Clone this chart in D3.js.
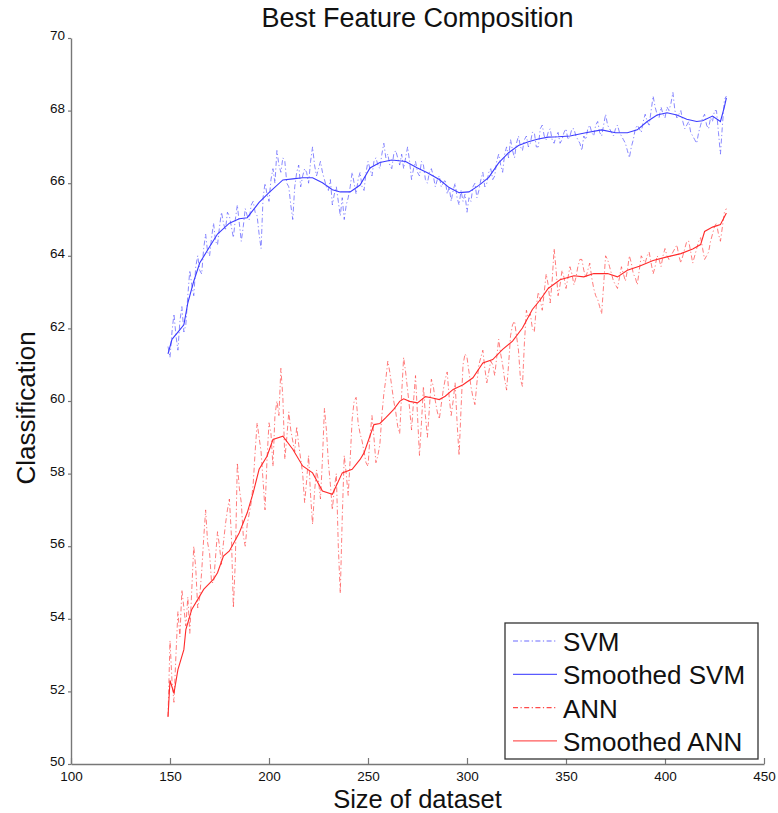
<!DOCTYPE html>
<html>
<head>
<meta charset="utf-8">
<script src="https://cdn.jsdelivr.net/npm/d3@7"></script>
<style>
  body { margin: 0; background: #fff; }
  text { font-family: "Liberation Sans", Arial, Helvetica, sans-serif; }
</style>
</head>
<body>
<div id="chart"></div>
<script>
// dataset sizes of the raw runs: 149 .. 431
var sizes = d3.range(149, 432);

var svmRaw = [61.5,61.2,61.9,62.4,61.8,61.4,62.2,62.6,61.9,62.1,
  62.9,63.6,63.2,62.9,63.7,64.0,63.6,63.5,64.2,64.6,
  64.1,64.0,64.5,64.9,64.4,64.3,64.8,65.2,64.9,64.7,
  65.2,65.1,64.8,64.5,65.0,65.4,64.9,64.4,64.8,65.3,
  65.1,65.0,65.4,65.5,65.2,65.1,64.6,64.2,65.6,66.0,
  65.7,65.5,66.1,66.4,66.0,66.9,66.5,66.3,66.7,66.6,
  66.0,65.9,65.4,65.0,65.9,66.3,66.5,65.9,66.2,66.4,
  66.3,66.0,66.6,67.0,66.5,66.2,66.4,66.6,66.3,66.1,
  65.9,65.8,66.1,65.4,65.7,65.9,65.5,65.1,65.6,65.0,
  65.4,65.6,65.9,66.3,66.0,65.7,66.1,66.3,65.9,65.8,
  66.3,66.6,66.4,66.2,66.6,66.7,66.5,66.4,66.8,67.1,
  66.7,66.8,66.5,66.4,66.8,66.9,66.7,66.5,66.8,66.4,
  66.7,67.0,66.6,66.1,66.4,66.6,66.3,66.2,66.6,66.5,
  66.1,66.0,66.3,66.4,66.2,65.9,66.1,66.2,65.9,66.0,
  66.1,65.7,65.9,65.5,65.8,66.0,65.6,65.4,65.8,65.5,
  65.7,65.2,65.6,65.5,65.9,66.0,65.6,65.8,66.1,66.3,
  65.9,66.0,66.3,66.4,66.1,66.2,66.6,66.8,66.5,66.3,
  66.8,67.0,66.7,67.2,66.9,66.7,67.1,67.3,67.0,66.9,
  67.2,67.3,67.0,67.1,67.4,67.4,67.0,67.0,67.5,67.6,
  67.3,67.2,67.4,67.5,67.2,67.1,67.3,67.4,67.1,67.2,
  67.4,67.5,67.2,67.3,67.5,67.5,67.3,67.2,67.1,66.9,
  67.3,67.2,67.5,67.6,67.4,67.3,67.6,67.7,67.4,67.3,
  67.6,67.9,67.6,67.5,67.4,67.3,67.5,67.6,67.4,67.3,
  67.2,67.1,66.9,66.7,67.0,67.2,67.5,67.6,67.5,67.4,
  67.7,67.9,67.7,67.6,68.0,68.4,68.1,67.9,67.8,68.1,
  67.9,67.8,68.1,68.0,68.2,68.5,68.0,67.8,67.9,68.0,
  67.7,67.5,67.6,67.7,67.4,67.3,67.2,67.1,67.4,67.6,
  67.8,67.9,67.6,67.5,67.8,67.7,68.0,68.0,67.4,66.8,
  67.6,68.3,68.4];

var annRaw = [51.3,53.4,52.3,51.7,53.0,54.2,53.5,54.8,54.3,53.8,
  54.6,53.6,54.8,56.0,55.4,54.3,54.6,55.3,56.2,57.0,
  56.1,55.8,55.0,55.0,55.7,56.4,56.0,55.5,56.1,56.6,
  57.0,57.3,56.3,54.3,55.6,58.3,57.6,57.2,56.3,56.0,
  56.6,56.9,57.2,57.7,58.6,59.4,59.0,58.6,57.8,57.0,
  58.4,59.4,59.1,58.2,59.6,60.0,59.6,60.9,60.1,58.4,
  59.0,59.7,59.2,58.9,58.6,59.3,58.8,58.4,58.0,57.2,
  57.8,58.5,57.4,56.6,57.5,58.1,57.8,57.3,58.4,59.8,
  59.2,58.3,57.7,57.0,57.6,58.0,56.0,54.7,56.8,58.5,
  58.0,57.4,58.4,59.5,60.0,60.1,59.4,59.1,58.9,58.6,
  58.3,58.2,59.0,59.6,59.0,58.3,58.5,58.8,59.6,60.2,
  60.6,61.1,60.8,60.4,60.0,59.7,59.3,59.1,60.2,61.2,
  60.8,60.3,59.8,59.2,60.0,60.7,59.6,58.5,59.4,60.4,
  59.6,59.0,59.8,60.6,60.4,60.0,59.7,59.5,59.9,60.3,
  60.6,60.8,60.1,59.6,60.0,60.5,59.4,58.5,59.8,61.0,
  61.3,61.2,60.8,60.4,60.1,59.9,60.5,61.0,61.2,61.4,
  60.9,60.5,60.8,61.1,61.0,60.7,61.2,61.7,61.3,61.0,
  60.6,60.3,61.0,61.8,62.1,62.2,61.8,61.4,60.6,60.4,
  61.6,62.5,62.3,62.4,62.0,61.9,62.6,63.0,62.8,62.5,
  63.0,63.5,63.2,62.7,63.3,64.2,63.6,62.9,63.2,63.6,
  63.4,63.1,63.4,63.7,63.5,63.2,63.4,63.7,63.9,63.9,
  63.6,63.4,63.6,63.8,63.4,63.1,62.9,62.8,62.6,62.4,
  63.2,64.0,63.9,63.7,63.5,63.3,63.2,63.1,63.4,63.7,
  63.5,63.3,63.6,64.0,63.8,63.5,63.4,63.2,63.6,64.0,
  63.9,63.8,64.0,64.1,63.8,63.5,63.7,64.0,63.9,63.7,
  64.0,64.2,64.0,63.9,64.0,64.1,64.2,64.3,64.0,63.8,
  64.0,64.2,64.4,64.4,64.1,63.8,64.0,64.2,64.4,64.5,
  64.2,63.9,64.0,64.1,64.4,64.6,64.8,64.9,64.6,64.4,
  64.8,65.2,65.3];

// smoothed curves
var svmSmoothX = [149,151,154,157,159,162,165,170,174,180,185,189,195,200,207,212,217,222,227,232,
  236,241,246,251,256,262,269,275,280,286,291,296,301,306,311,316,321,326,331,336,
  341,346,352,360,368,375,381,386,391,396,401,406,411,416,419,424,428,430,431];
var svmSmooth = [61.3,61.7,61.9,62.1,62.7,63.3,63.8,64.25,64.6,64.9,65.02,65.05,65.47,65.74,66.09,66.12,66.15,66.15,66.01,65.82,
  65.76,65.76,65.95,66.42,66.57,66.64,66.6,66.42,66.29,66.1,65.88,65.74,65.76,65.94,66.16,66.56,66.84,67.04,67.14,67.22,
  67.27,67.28,67.30,67.39,67.47,67.39,67.39,67.47,67.70,67.88,67.94,67.88,67.76,67.70,67.72,67.85,67.70,68.1,68.35];

var annSmoothX = [149,150,152,154,157,158,161,167,172,174,177,180,185,189,192,195,199,202,207,212,
  217,222,227,232,237,242,246,248,253,256,259,263,266,268,271,275,279,282,286,289,
  293,298,303,308,313,318,323,328,333,337,341,347,354,359,364,371,376,381,387,394,
  401,408,414,418,420,424,428,431];
var annSmooth = [51.3,52.3,51.95,52.6,53.15,53.7,54.26,54.81,55.09,55.27,55.73,55.87,56.37,56.92,57.47,58.12,58.48,58.94,59.03,58.67,
  58.21,58.02,57.52,57.43,58.02,58.12,58.39,58.57,59.35,59.38,59.54,59.77,59.99,60.06,59.99,59.95,60.12,60.09,60.04,60.13,
  60.32,60.45,60.64,61.05,61.14,61.42,61.65,62.01,62.52,62.79,63.1,63.34,63.45,63.42,63.51,63.51,63.42,63.60,63.71,63.87,
  63.97,64.06,64.19,64.31,64.67,64.79,64.86,65.18];

var xTicks = [100,150,200,250,300,350,400,450];
var yTicks = [50,52,54,56,58,60,62,64,66,68,70];
var legendLabels = ["SVM", "Smoothed SVM", "ANN", "Smoothed ANN"];

var width = 778, height = 813;
var plotLeft = 71, plotRight = 764, plotTop = 38, plotBottom = 764;

var svg = d3.select("#chart").append("svg")
  .attr("width", width)
  .attr("height", height);

var x = d3.scaleLinear().domain([100, 450]).range([plotLeft, plotRight]);
var y = d3.scaleLinear().domain([50, 70]).range([plotBottom, plotTop]);

// axes
var xAxis = svg.append("g")
  .attr("transform", "translate(0," + plotBottom + ")")
  .call(d3.axisBottom(x).tickValues(xTicks).tickSize(-6).tickSizeOuter(0).tickPadding(7.5));
var yAxis = svg.append("g")
  .attr("transform", "translate(" + plotLeft + ",0)")
  .call(d3.axisLeft(y).tickValues(yTicks).tickSize(3).tickSizeOuter(0).tickPadding(3));

[xAxis, yAxis].forEach(function(g){
  g.select(".domain").attr("stroke", "#777").attr("stroke-width", 1.4);
  g.selectAll(".tick line").attr("stroke", "#777").attr("stroke-width", 1.2);
  g.selectAll(".tick text").attr("fill", "#111").style("font-size", "13.5px");
});
yAxis.selectAll(".tick text").attr("dy", "0.12em");

// lines
function lineOf(xs, ys){
  return d3.line()
    .x(function(d, i){ return x(xs[i]); })
    .y(function(d){ return y(d); })(ys);
}

var dashDot = "5,2.5,1.2,2.5";

svg.append("path")
  .attr("d", lineOf(sizes, svmRaw))
  .attr("fill", "none")
  .attr("stroke", "#5a5aff")
  .attr("stroke-width", 0.9)
  .attr("stroke-dasharray", dashDot)
  .attr("opacity", 0.8);

svg.append("path")
  .attr("d", lineOf(sizes, annRaw))
  .attr("fill", "none")
  .attr("stroke", "#ff4a4a")
  .attr("stroke-width", 0.9)
  .attr("stroke-dasharray", dashDot)
  .attr("opacity", 0.8);

svg.append("path")
  .attr("d", lineOf(svmSmoothX, svmSmooth))
  .attr("fill", "none")
  .attr("stroke", "#3c3cff")
  .attr("stroke-width", 1.1);

svg.append("path")
  .attr("d", lineOf(annSmoothX, annSmooth))
  .attr("fill", "none")
  .attr("stroke", "#ff2a2a")
  .attr("stroke-width", 1.1);

// title and axis labels
svg.append("text")
  .attr("x", (plotLeft + plotRight) / 2)
  .attr("y", 27)
  .attr("text-anchor", "middle")
  .style("font-size", "27px")
  .attr("fill", "#111")
  .text("Best Feature Composition");

svg.append("text")
  .attr("x", (plotLeft + plotRight) / 2)
  .attr("y", 807.5)
  .attr("text-anchor", "middle")
  .style("font-size", "25.5px")
  .attr("fill", "#111")
  .text("Size of dataset");

svg.append("text")
  .attr("transform", "translate(35," + 408 + ") rotate(-90)")
  .attr("text-anchor", "middle")
  .style("font-size", "26px")
  .attr("fill", "#111")
  .text("Classification");

// legend
var legend = svg.append("g").attr("transform", "translate(505,623)");
legend.append("rect")
  .attr("width", 253)
  .attr("height", 136)
  .attr("fill", "#fff")
  .attr("stroke", "#333")
  .attr("stroke-width", 1.3);

var legendStyle = [
  {color: "#6a6aff", dash: dashDot, w: 1.2},
  {color: "#5a5aff", dash: null, w: 1.2},
  {color: "#ff4a4a", dash: dashDot, w: 1.2},
  {color: "#ff5a5a", dash: null, w: 1.2}
];

legendLabels.forEach(function(label, i){
  var cy = 18 + i * 33.3;
  legend.append("line")
    .attr("x1", 8).attr("x2", 52)
    .attr("y1", cy).attr("y2", cy)
    .attr("stroke", legendStyle[i].color)
    .attr("stroke-width", legendStyle[i].w)
    .attr("stroke-dasharray", legendStyle[i].dash);
  legend.append("text")
    .attr("x", 58)
    .attr("y", cy + 10)
    .style("font-size", "26px")
    .attr("fill", "#111")
    .text(label);
});
</script>
</body>
</html>
